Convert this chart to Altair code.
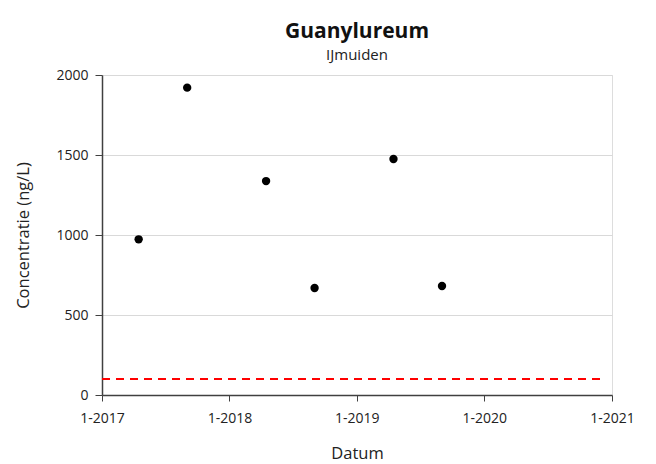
import altair as alt
import pandas as pd

dates = ["2017-04-16", "2017-09-02", "2018-04-16", "2018-09-02", "2019-04-16", "2019-09-02"]
values = [973, 1921, 1337, 669, 1475, 681]
norm_start = ["2017-01-01"]
norm_end = ["2020-12-01"]
norm_value = [100]

df = pd.DataFrame({"Datum": dates, "Concentratie": values})
norm = pd.DataFrame({"start": norm_start, "end": norm_end, "v": norm_value})

FONT = "Open Sans"

xscale = alt.Scale(domain=[alt.DateTime(year=2017, month=1, date=1),
                           alt.DateTime(year=2021, month=1, date=1)], nice=False)
yscale = alt.Scale(domain=[0, 2000], nice=False)

xaxis = alt.Axis(
    title="Datum",
    values=[alt.DateTime(year=y, month=1, date=1) for y in range(2017, 2022)],
    format="%-m-%Y", formatType="time",
    labelFlush=False, labelOverlap=False,
    grid=False, tickSize=6, tickColor="#404040", domainColor="#404040",
    domainWidth=1.5, labelFont=FONT, labelFontSize=14, labelColor="#222", labelPadding=10,
    titleFont=FONT, titleFontSize=16.5, titleFontWeight="normal", titlePadding=20, titleColor="#222",
)
yaxis = alt.Axis(
    title="Concentratie  (ng/L)",
    values=[0, 500, 1000, 1500, 2000], format="d",
    grid=True, gridColor="#d9d9d9", gridWidth=1,
    tickSize=7, tickColor="#404040", domainColor="#404040", domainWidth=1.5,
    labelFont=FONT, labelFontSize=14, labelColor="#222", labelPadding=7,
    titleFont=FONT, titleFontSize=16.5, titleFontWeight="normal", titlePadding=24, titleColor="#222",
)

points = alt.Chart(df).mark_circle(size=70, color="black", opacity=1).encode(
    x=alt.X("Datum:T", scale=xscale, axis=xaxis),
    y=alt.Y("Concentratie:Q", scale=yscale, axis=yaxis),
)

rule = alt.Chart(norm).mark_rule(color="#ff0000", strokeWidth=2, strokeDash=[8, 6]).encode(
    x=alt.X("start:T", scale=xscale),
    x2="end:T",
    y=alt.Y("v:Q", scale=yscale),
)

chart = alt.layer(rule, points).properties(
    width=510, height=320,
    autosize=alt.AutoSizeParams(type="none"),
    padding={"left": 94, "top": 67, "right": 30, "bottom": 72},
    title=alt.TitleParams(
        text="Guanylureum", subtitle="IJmuiden",
        font=FONT, fontSize=21, fontWeight="bold", color="#111",
        subtitleFont=FONT, subtitleFontSize=15, subtitleColor="#222",
        subtitlePadding=6, anchor="middle", offset=5,
    ),
).configure_view(stroke="#404040", strokeWidth=1.5).configure(background="white")

chart.save("out.html", embed_options={"renderer": "svg", "actions": False})
